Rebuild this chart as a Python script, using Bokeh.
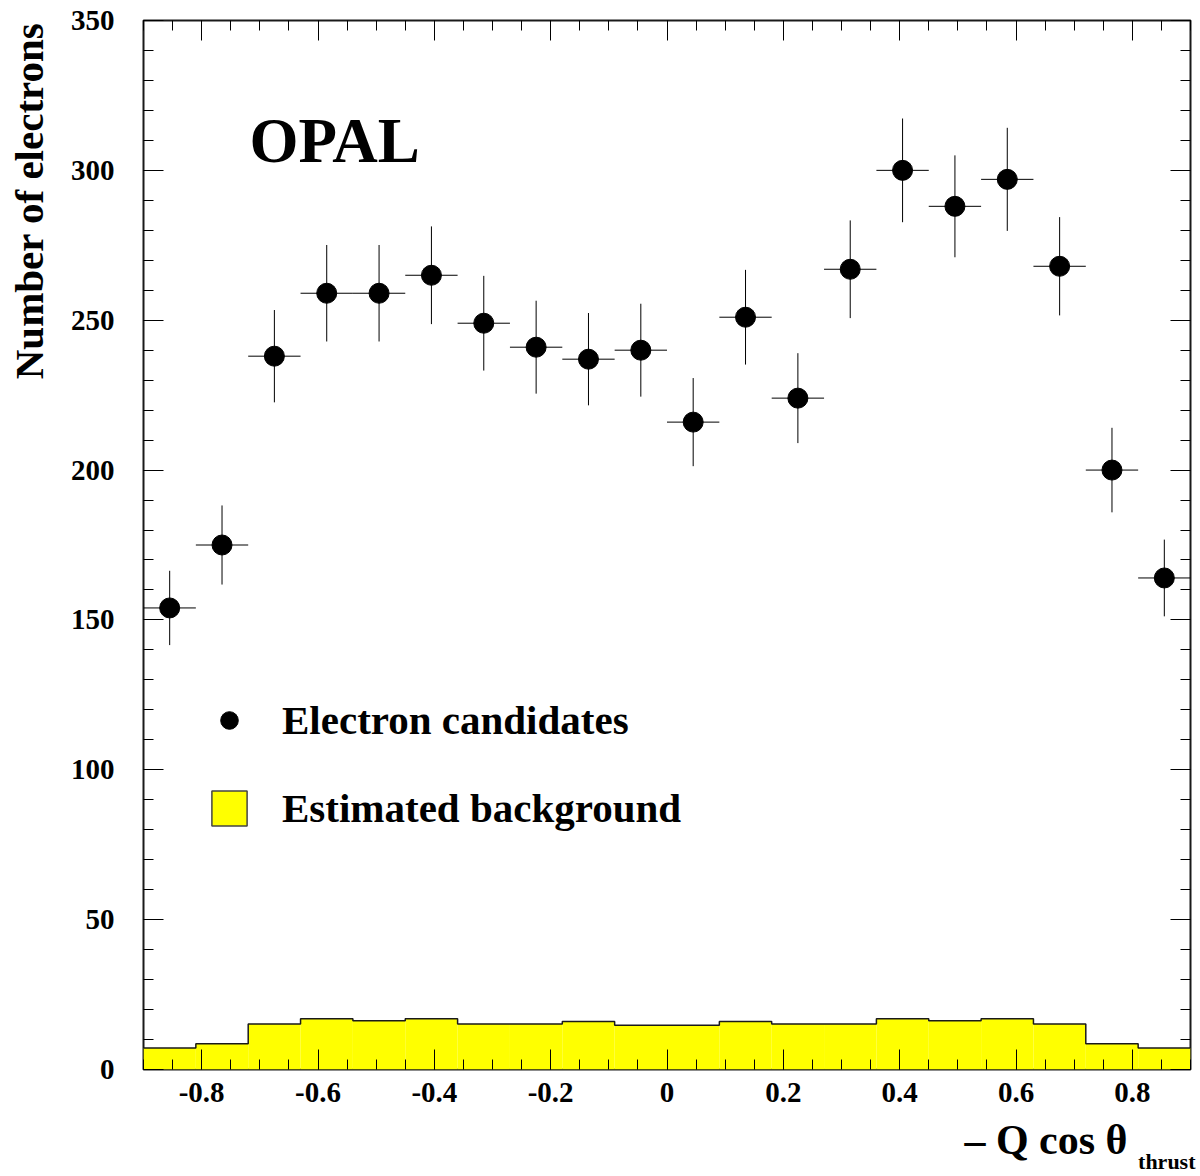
import math
from bokeh.plotting import figure
from bokeh.models import FixedTicker, LinearAxis, Label, Legend, LegendItem, Range1d
from bokeh.layouts import row, column
from bokeh.embed import file_html
from bokeh.resources import INLINE

# ---------------- data ----------------
bin_lo = -0.9
bin_hi = 0.9
n_bins = 20
electrons = [154, 175, 238, 259, 259, 265, 249, 241, 237, 240,
             216, 251, 224, 267, 300, 288, 297, 268, 200, 164]
electron_err = [12.4, 13.2, 15.4, 16.1, 16.1, 16.3, 15.8, 15.5, 15.4, 15.5,
                14.7, 15.8, 15.0, 16.3, 17.3, 17.0, 17.2, 16.4, 14.1, 12.8]
background = [7.2, 8.6, 15.2, 16.9, 16.3, 16.9, 15.2, 15.2, 16.0, 14.8,
              14.8, 16.0, 15.2, 15.2, 16.9, 16.3, 16.9, 15.2, 8.6, 7.2]
x_major = [-0.8, -0.6, -0.4, -0.2, 0.0, 0.2, 0.4, 0.6, 0.8]
x_labels = ["-0.8", "-0.6", "-0.4", "-0.2", "0", "0.2", "0.4", "0.6", "0.8"]
y_major = [0, 50, 100, 150, 200, 250, 300, 350]
y_labels = ["0", "50", "100", "150", "200", "250", "300", "350"]
x_minor_step = 0.05
y_minor_step = 10
y_max = 350
legend_labels = ["Electron candidates", "Estimated background"]
title_text = "OPAL"
y_title = "Number of electrons"
x_title_main = "\u2013 Q cos \u03b8"
x_title_sub = "thrust"

FONT = "Liberation Serif"

# derived geometry
width_bin = (bin_hi - bin_lo) / n_bins
edges = [bin_lo + i * width_bin for i in range(n_bins + 1)]
centers = [(edges[i] + edges[i + 1]) / 2 for i in range(n_bins)]
x_minor = [round(bin_lo + i * x_minor_step, 4)
           for i in range(int(round((bin_hi - bin_lo) / x_minor_step)) + 1)]
y_minor = list(range(0, y_max + 1, y_minor_step))

YLAB_W = 55
MAIN_H = 1116
TOTAL_W = 1198
XLAB_H = 58


def blank_fig(w, h):
    f = figure(width=w, height=h, output_backend="svg", toolbar_location=None,
               x_range=Range1d(0, 1), y_range=Range1d(0, 1),
               min_border=0, min_border_left=0, min_border_right=0,
               min_border_top=0, min_border_bottom=0,
               x_axis_location=None, y_axis_location=None)
    f.xgrid.visible = False
    f.ygrid.visible = False
    f.outline_line_color = None
    f.background_fill_color = "white"
    f.border_fill_color = "white"
    return f


p = figure(width=TOTAL_W - YLAB_W, height=MAIN_H, output_backend="svg", toolbar_location=None,
           x_range=Range1d(bin_lo, bin_hi), y_range=Range1d(0, y_max),
           min_border_left=88, min_border_right=8, min_border_top=20, min_border_bottom=47,
           x_axis_location=None, y_axis_location=None)
p.xgrid.visible = False
p.ygrid.visible = False
p.background_fill_color = "white"
p.border_fill_color = "white"
p.outline_line_color = "#1a1a1a"
p.outline_line_width = 2

xticker = FixedTicker(ticks=x_major, minor_ticks=x_minor)
yticker = FixedTicker(ticks=y_major, minor_ticks=y_minor)


def style_axis(ax, show_labels):
    ax.axis_line_color = None
    ax.major_tick_in = 20
    ax.major_tick_out = 0
    ax.minor_tick_in = 10
    ax.minor_tick_out = 0
    ax.major_tick_line_color = "black"
    ax.minor_tick_line_color = "black"
    ax.major_tick_line_width = 1
    ax.minor_tick_line_width = 1
    if show_labels:
        ax.major_label_text_font = FONT
        ax.major_label_text_font_style = "bold"
        ax.major_label_text_font_size = "29px"
        ax.major_label_text_color = "black"
    else:
        ax.major_label_text_font_size = "1px"
        ax.major_label_text_color = None
        ax.major_label_standoff = 0


bottom = LinearAxis(ticker=xticker, major_label_overrides={v: s for v, s in zip(x_major, x_labels)})
style_axis(bottom, True)
bottom.major_label_standoff = 13
p.add_layout(bottom, "below")

left = LinearAxis(ticker=yticker, major_label_overrides={v: s for v, s in zip(y_major, y_labels)})
style_axis(left, True)
left.major_label_standoff = 29
p.add_layout(left, "left")

top = LinearAxis(ticker=xticker)
style_axis(top, False)
p.add_layout(top, "above")

right = LinearAxis(ticker=yticker)
style_axis(right, False)
p.add_layout(right, "right")

# background histogram
p.quad(left=edges[:-1], right=edges[1:], bottom=[0] * n_bins, top=background,
       fill_color="#ffff00", line_color=None)
step_x, step_y = [], []
for i in range(n_bins):
    step_x += [edges[i], edges[i + 1]]
    step_y += [background[i], background[i]]
p.line(step_x, step_y, line_color="#1a1a1a", line_width=1.5)
# hidden copy, only used to draw the legend swatch (yellow box with dark border)
bg_leg = p.quad(left=edges[:-1], right=edges[1:], bottom=[0] * n_bins, top=background,
                fill_color="#ffff00", line_color="#444444", line_width=1.5, visible=False)

# error bars and points
p.segment(x0=edges[:-1], x1=edges[1:], y0=electrons, y1=electrons, line_color="black", line_width=1)
p.segment(x0=centers, x1=centers,
          y0=[v - e for v, e in zip(electrons, electron_err)],
          y1=[v + e for v, e in zip(electrons, electron_err)],
          line_color="black", line_width=1)
pts = p.scatter(centers, electrons, marker="circle", size=20, fill_color="black", line_color="black")

legend = Legend(items=[LegendItem(label=legend_labels[0], renderers=[pts]),
                       LegendItem(label=legend_labels[1], renderers=[bg_leg])],
                location=(64, 237), orientation="vertical",
                glyph_width=44, glyph_height=44, label_height=44, spacing=40,
                label_standoff=31, padding=0, margin=0,
                border_line_color=None, background_fill_alpha=0,
                inactive_fill_alpha=0, click_policy="none",
                label_text_font=FONT, label_text_font_style="bold",
                label_text_font_size="41px", label_text_color="black")
p.add_layout(legend)

p.add_layout(Label(x=106, y=929, x_units="screen", y_units="screen", text=title_text,
                   text_font=FONT, text_font_style="bold", text_font_size="63px",
                   text_align="left", text_baseline="middle", text_color="black"))

# y-axis title in its own strip on the left (its frame is aligned with the main frame)
ylab = blank_fig(YLAB_W, MAIN_H)
ylab.add_layout(Label(x=28, y=1047, x_units="screen", y_units="screen", text=y_title,
                      angle=math.pi / 2, text_font=FONT, text_font_style="bold",
                      text_font_size="41px", text_align="right", text_baseline="middle",
                      text_color="black"))

# x-axis title (with subscript) in its own strip below
xlab = blank_fig(TOTAL_W, XLAB_H)
xlab.add_layout(Label(x=1127, y=35, x_units="screen", y_units="screen", text=x_title_main,
                      text_font=FONT, text_font_style="bold", text_font_size="42px",
                      text_align="right", text_baseline="middle", text_color="black"))
xlab.add_layout(Label(x=1195, y=13, x_units="screen", y_units="screen", text=x_title_sub,
                      text_font=FONT, text_font_style="bold", text_font_size="22px",
                      text_align="right", text_baseline="middle", text_color="black"))

layout = column(row(ylab, p), xlab)
open("out.html", "w").write(file_html(layout, INLINE))
